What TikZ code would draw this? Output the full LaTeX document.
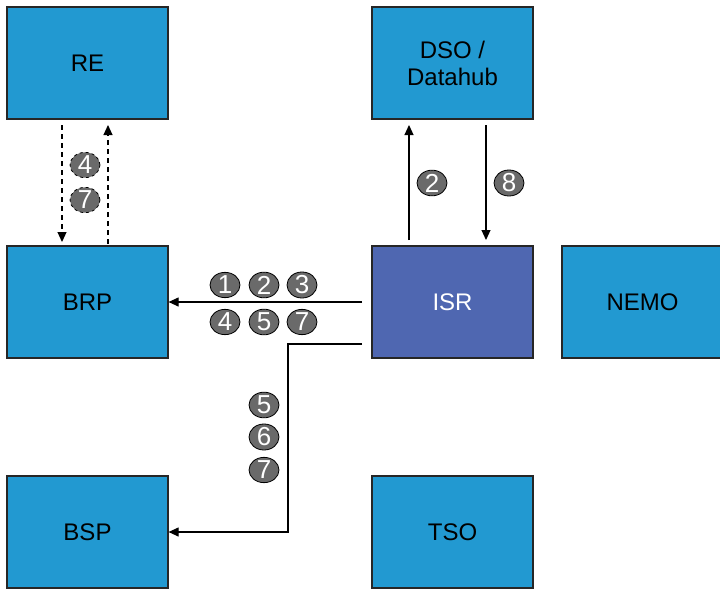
\documentclass[tikz,border=0pt]{standalone}
\usepackage{fontspec}
\setmainfont{Liberation Sans}
\usetikzlibrary{arrows.meta,shapes.geometric}
\definecolor{boxblue}{HTML}{2299D1}
\definecolor{isrblue}{HTML}{4F67B1}
\definecolor{numgray}{HTML}{6A6A6A}
\tikzset{
  ent/.style={draw=black!85, line width=1.2pt, fill=boxblue, minimum width=161pt, minimum height=112pt, inner sep=0pt, font=\fontsize{24}{27}\selectfont, align=center},
  num/.style={ellipse, draw=black, line width=0.8pt, fill=numgray, text=white, minimum width=30pt, minimum height=25pt, inner sep=0pt, font=\fontsize{26}{26}\selectfont},
  numd/.style={num, dashed},
  conn/.style={line width=1.1pt, -{Triangle[length=10pt,width=9pt]}},
  connd/.style={conn, dashed, dash pattern=on 5pt off 4pt}
}
\begin{document}
\begin{tikzpicture}[x=1pt,y=-1pt]
\useasboundingbox (0,0) rectangle (720,589);
\node[ent] (re) at (87.5,63) {RE};
\node[ent] (dso) at (452.5,63) {DSO /\\Datahub};
\node[ent] (brp) at (87.5,302) {BRP};
\node[ent, fill=isrblue, text=white] (isr) at (452.5,302) {ISR};
\node[ent] (nemo) at (642.5,302) {NEMO};
\node[ent] (bsp) at (87.5,532) {BSP};
\node[ent] (tso) at (452.5,532) {TSO};
% RE <-> BRP
\coordinate (reA) at (62,125);
\coordinate (brpA) at (62,242);
\coordinate (brpB) at (108,244);
\coordinate (reB) at (108,125);
\draw[connd] (reA) -- (brpA);
\draw[connd] (brpB) -- (reB);
\node[numd] (n4a) at (85,165) {4};
\node[numd] (n7a) at (85,200) {7};
% ISR <-> DSO
\coordinate (isrU) at (409,240);
\coordinate (dsoU) at (409,125);
\coordinate (dsoD) at (486,125);
\coordinate (isrD) at (486,240);
\draw[conn] (isrU) -- (dsoU);
\draw[conn] (dsoD) -- (isrD);
\node[num] (n2d) at (432,183) {2};
\node[num] (n8d) at (509,183) {8};
% ISR -> BRP
\coordinate (isrL) at (362,302);
\draw[conn] (isrL) -- (brp.east);
\node[num] (n1) at (225,285) {1};
\node[num] (n2) at (264,285) {2};
\node[num] (n3) at (302,285) {3};
\node[num] (n4) at (225,322) {4};
\node[num] (n5) at (264,322) {5};
\node[num] (n7) at (302,322) {7};
% ISR -> BSP
\coordinate (isrL2) at (362,344);
\coordinate (bend1) at (288,344);
\coordinate (bend2) at (288,532);
\draw[conn] (isrL2) -- (bend1) -- (bend2) -- (bsp.east);
\node[num] (n5b) at (264,405) {5};
\node[num] (n6b) at (264,437) {6};
\node[num] (n7b) at (264,470) {7};
\end{tikzpicture}
\end{document}
